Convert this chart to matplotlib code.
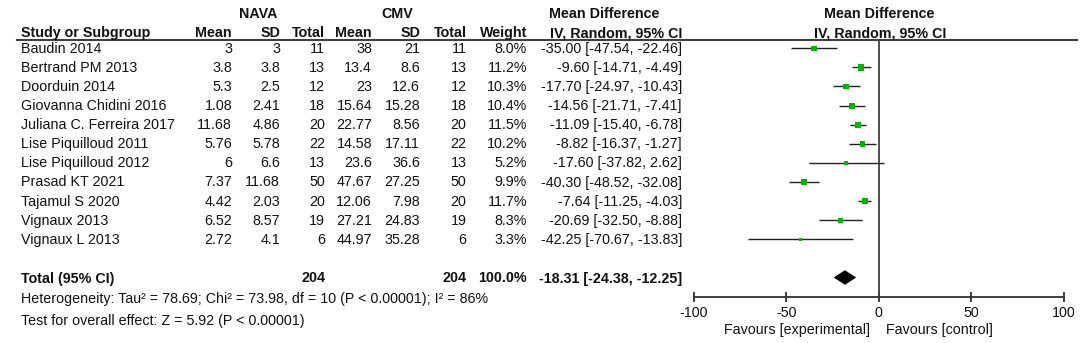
import matplotlib
matplotlib.use("Agg")
import matplotlib.pyplot as plt
from matplotlib.lines import Line2D

plt.rcParams['font.family'] = ['Liberation Sans', 'DejaVu Sans']

# study data
studies = ["Baudin 2014", "Bertrand PM 2013", "Doorduin 2014", "Giovanna Chidini 2016",
           "Juliana C. Ferreira 2017", "Lise Piquilloud 2011", "Lise Piquilloud 2012",
           "Prasad KT 2021", "Tajamul S 2020", "Vignaux 2013", "Vignaux L 2013"]
nava_mean = [3, 3.8, 5.3, 1.08, 11.68, 5.76, 6, 7.37, 4.42, 6.52, 2.72]
nava_sd = [3, 3.8, 2.5, 2.41, 4.86, 5.78, 6.6, 11.68, 2.03, 8.57, 4.1]
nava_n = [11, 13, 12, 18, 20, 22, 13, 50, 20, 19, 6]
cmv_mean = [38, 13.4, 23, 15.64, 22.77, 14.58, 23.6, 47.67, 12.06, 27.21, 44.97]
cmv_sd = [21, 8.6, 12.6, 15.28, 8.56, 17.11, 36.6, 27.25, 7.98, 24.83, 35.28]
cmv_n = [11, 13, 12, 18, 20, 22, 13, 50, 20, 19, 6]
weight = [8.0, 11.2, 10.3, 10.4, 11.5, 10.2, 5.2, 9.9, 11.7, 8.3, 3.3]
md = [-35.00, -9.60, -17.70, -14.56, -11.09, -8.82, -17.60, -40.30, -7.64, -20.69, -42.25]
lo = [-47.54, -14.71, -24.97, -21.71, -15.40, -16.37, -37.82, -48.52, -11.25, -32.50, -70.67]
hi = [-22.46, -4.49, -10.43, -7.41, -6.78, -1.27, 2.62, -32.08, -4.03, -8.88, -13.83]

# pooled result
total_nava = 204
total_cmv = 204
total_weight = 100.0
total_md, total_lo, total_hi = -18.31, -24.38, -12.25
heterogeneity = "Heterogeneity: Tau² = 78.69; Chi² = 73.98, df = 10 (P < 0.00001); I² = 86%"
overall = "Test for overall effect: Z = 5.92 (P < 0.00001)"
xticks = [-100, -50, 0, 50, 100]

W, H = 1084, 343
fig = plt.figure(figsize=(W / 100, H / 100), dpi=100)
FS = 10.3

ROW0, STEP = 48.3, 19.1   # pixel y of first row, row spacing
TOTAL_ROW = 12


def fy(py):
    return 1 - py / H


def row_px(i):
    return ROW0 + STEP * i


def put(px, py, s, ha='right', bold=False, size=FS):
    fig.text(px / W, fy(py), s, ha=ha, va='center', fontsize=size,
             fontweight='bold' if bold else 'normal', color='#111111')


# header
put(258, 14, "NAVA", ha='center', bold=True)
put(397, 14, "CMV", ha='center', bold=True)
put(604, 14, "Mean Difference", ha='center', bold=True)
put(879, 14, "Mean Difference", ha='center', bold=True)
put(21, 33, "Study or Subgroup", ha='left', bold=True)
put(232, 33, "Mean", bold=True)
put(280, 33, "SD", bold=True)
put(325, 33, "Total", bold=True)
put(372, 33, "Mean", bold=True)
put(420, 33, "SD", bold=True)
put(466.5, 33, "Total", bold=True)
put(527, 33, "Weight", bold=True)
put(682, 33, "IV, Random, 95% CI", bold=True)
put(880, 33, "IV, Random, 95% CI", ha='center', bold=True)
fig.add_artist(Line2D([17 / W, 1077 / W], [fy(39.5), fy(39.5)], color='#404040', lw=1.5))

# study rows
for i, s in enumerate(studies):
    py = row_px(i) + 0.5
    put(21, py, s, ha='left')
    put(232, py, f"{nava_mean[i]:g}")
    put(280, py, f"{nava_sd[i]:g}")
    put(325, py, f"{nava_n[i]}")
    put(372, py, f"{cmv_mean[i]:g}")
    put(420, py, f"{cmv_sd[i]:g}")
    put(466.5, py, f"{cmv_n[i]}")
    put(527, py, f"{weight[i]:.1f}%")
    put(682, py, f"{md[i]:.2f} [{lo[i]:.2f}, {hi[i]:.2f}]")

py = row_px(TOTAL_ROW) + 1
put(21, py, "Total (95% CI)", ha='left', bold=True)
put(325, py, f"{total_nava}", bold=True)
put(466.5, py, f"{total_cmv}", bold=True)
put(527, py, f"{total_weight:.1f}%", bold=True)
put(682, py, f"{total_md:.2f} [{total_lo:.2f}, {total_hi:.2f}]", bold=True)
put(21, 299, heterogeneity, ha='left')
put(21, 321, overall, ha='left')

# forest panel
x0, x1 = 693.7, 1064.0
top, bottom = 39.5, 296.7
ax = fig.add_axes([x0 / W, fy(bottom), (x1 - x0) / W, (bottom - top) / H])
ax.set_xlim(-100, 100)
ax.set_ylim((bottom - ROW0) / STEP, (top - ROW0) / STEP)
ax.patch.set_alpha(0)
for sp in ['top', 'left', 'right']:
    ax.spines[sp].set_visible(False)
ax.spines['bottom'].set_color('#303030')
ax.spines['bottom'].set_linewidth(1.3)
ax.set_yticks([])
ax.set_xticks(xticks)
ax.set_xticklabels([f"{t}" for t in xticks], fontsize=FS, color='#111111')
ax.tick_params(axis='x', direction='inout', length=7, width=1.3, color='#303030', pad=3)
ax.axvline(0, color='#404040', lw=1.3)

rows = list(range(len(studies)))
ax.hlines(rows, lo, hi, color='#202020', lw=1.0)
ax.scatter(md, rows, marker='s', s=[1.8 * w for w in weight], color='#00b400',
           edgecolors='none', zorder=3)
dh = 0.38
ax.fill([total_lo, total_md, total_hi, total_md],
        [TOTAL_ROW, TOTAL_ROW - dh, TOTAL_ROW, TOTAL_ROW + dh], color='black', lw=0)

put(870, 330, "Favours [experimental]")
put(886, 330, "Favours [control]", ha='left')

fig.savefig("out.png", dpi=100)
